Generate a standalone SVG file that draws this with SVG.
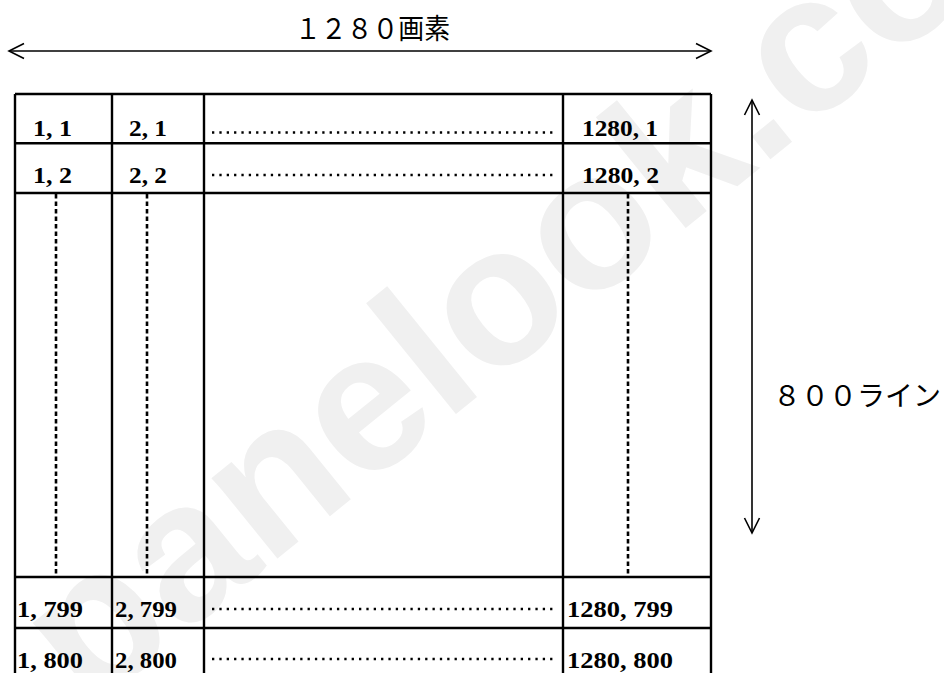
<svg xmlns="http://www.w3.org/2000/svg" width="944" height="673" viewBox="0 0 944 673">
<defs>
<style>
.grid{stroke:#000;stroke-width:2.4;fill:none}
.dot{stroke:#000;stroke-width:2.4;stroke-dasharray:2.3 5.05;fill:none}
.dash{stroke:#000;stroke-width:2.6;stroke-dasharray:4.5 3;fill:none}
.cell{font-family:"Liberation Serif","DejaVu Serif",serif;font-weight:bold;font-size:23px;fill:#000}
.lbl{font-family:"Noto Sans CJK JP","Noto Sans CJK SC",sans-serif;font-size:28px;fill:#000}
.arr{stroke:#000;stroke-width:1.6;fill:none}
.wm{font-family:"Liberation Sans",Arial,sans-serif;font-weight:bold;font-size:197px;fill:#f0f0f0}
</style>
<marker id="ah" viewBox="-17 -9 19 18" refX="0" refY="0" markerWidth="19" markerHeight="18" markerUnits="userSpaceOnUse" orient="auto-start-reverse">
<path d="M-15,-7.5 L0,0 L-15,7.5" fill="none" stroke="#000" stroke-width="1.6"/>
</marker>
</defs>
<rect width="944" height="673" fill="#fff"/>
<text class="wm" transform="translate(88,712) rotate(-39)">panelook.com</text>

<g id="grid">
<path class="grid" d="M15,94 H711 M15,143.3 H711 M15,193 H711 M15,577 H711 M15,628 H711"/>
<path class="grid" d="M15,94 V673 M112,94 V673 M204,94 V673 M563,94 V673 M711,94 V673"/>
</g>

<g id="dotted-rows">
<path class="dot" d="M212,132.5 H555 M212,175 H555 M212,609 H555 M212,659 H555"/>
</g>
<g id="dashed-columns">
<path class="dash" d="M56,194 V577 M147,194 V577 M628,194 V577"/>
</g>

<g id="cell-1-1"><text class="cell" x="33" y="136" textLength="39" lengthAdjust="spacingAndGlyphs">1, 1</text></g>
<g id="cell-2-1"><text class="cell" x="129" y="136" textLength="38" lengthAdjust="spacingAndGlyphs">2, 1</text></g>
<g id="cell-1280-1"><text class="cell" x="582" y="136" textLength="76" lengthAdjust="spacingAndGlyphs">1280, 1</text></g>
<g id="cell-1-2"><text class="cell" x="33" y="183" textLength="39" lengthAdjust="spacingAndGlyphs">1, 2</text></g>
<g id="cell-2-2"><text class="cell" x="129" y="183" textLength="38" lengthAdjust="spacingAndGlyphs">2, 2</text></g>
<g id="cell-1280-2"><text class="cell" x="582" y="183" textLength="77" lengthAdjust="spacingAndGlyphs">1280, 2</text></g>
<g id="cell-1-799"><text class="cell" x="17" y="617" textLength="66" lengthAdjust="spacingAndGlyphs">1, 799</text></g>
<g id="cell-2-799"><text class="cell" x="115" y="617" textLength="62" lengthAdjust="spacingAndGlyphs">2, 799</text></g>
<g id="cell-1280-799"><text class="cell" x="567" y="617" textLength="106" lengthAdjust="spacingAndGlyphs">1280, 799</text></g>
<g id="cell-1-800"><text class="cell" x="17" y="668" textLength="66" lengthAdjust="spacingAndGlyphs">1, 800</text></g>
<g id="cell-2-800"><text class="cell" x="115" y="668" textLength="62" lengthAdjust="spacingAndGlyphs">2, 800</text></g>
<g id="cell-1280-800"><text class="cell" x="567" y="668" textLength="106" lengthAdjust="spacingAndGlyphs">1280, 800</text></g>

<g id="label-width"><text class="lbl" x="295" y="39" textLength="155" lengthAdjust="spacingAndGlyphs">１２８０画素</text></g>
<g id="label-height"><text class="lbl" x="773" y="406" textLength="168" lengthAdjust="spacingAndGlyphs">８００ライン</text></g>

<g id="connectors">
<line class="arr" x1="9" y1="51" x2="711" y2="51" marker-start="url(#ah)" marker-end="url(#ah)"/>
<line class="arr" x1="752" y1="100" x2="752" y2="533" marker-start="url(#ah)" marker-end="url(#ah)"/>
</g>
</svg>
